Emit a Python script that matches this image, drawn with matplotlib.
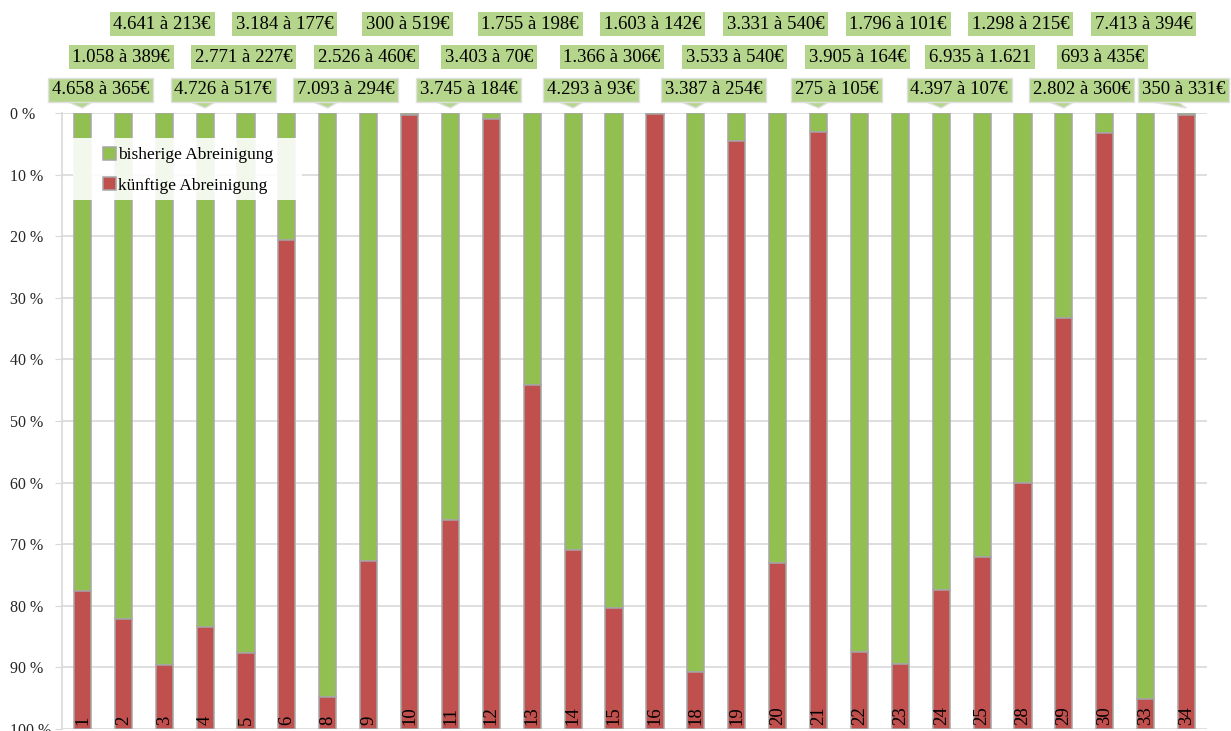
import numpy as np
import matplotlib.pyplot as plt
from matplotlib.patches import Rectangle, Patch, Polygon
from matplotlib.transforms import ScaledTranslation

# bar numbers, share of "bisherige" (green, from top) in %
bar_ids = ["1", "2", "3", "4", "5", "6", "8", "9", "10", "11", "12", "13", "14", "15",
           "16", "18", "19", "20", "21", "22", "23", "24", "25", "28", "29", "30", "33", "34"]
bisherige = [77.6, 82.1, 89.6, 83.4, 87.7, 20.6, 94.8, 72.7, 0.4, 66.0, 0.9, 44.2, 71.0, 80.4,
             0.2, 90.8, 4.5, 73.0, 3.1, 87.5, 89.4, 77.4, 72.1, 60.0, 33.3, 3.2, 95.1, 0.4]
box_labels = ["4.658 à 365€", "1.058 à 389€", "4.641 à 213€", "4.726 à 517€", "2.771 à 227€",
              "3.184 à 177€", "7.093 à 294€", "2.526 à 460€", "300 à 519€", "3.745 à 184€",
              "3.403 à 70€", "1.755 à 198€", "4.293 à 93€", "1.366 à 306€", "1.603 à 142€",
              "3.387 à 254€", "3.533 à 540€", "3.331 à 540€", "275 à 105€", "3.905 à 164€",
              "1.796 à 101€", "4.397 à 107€", "6.935 à 1.621", "1.298 à 215€", "2.802 à 360€",
              "693 à 435€", "7.413 à 394€", "350 à 331€"]
yticks = list(range(0, 101, 10))

GREEN = "#92c050"
RED = "#c0504d"
EDGE = "#a6a6a6"
BOX = "#b5d58c"
GRID = "#d9d9d9"

plt.rcParams["font.family"] = ["Liberation Serif", "DejaVu Serif"]

fig = plt.figure(figsize=(12.31, 7.31), dpi=100)
ax = fig.add_axes([62 / 1231, 2 / 731, 1145 / 1231, 616 / 731])

x = np.arange(len(bar_ids))
g = np.array(bisherige)
ax.bar(x, g, width=0.42, color=GREEN, edgecolor=EDGE, linewidth=1.1, zorder=2)
ax.bar(x, 100 - g, bottom=g, width=0.42, color=RED, edgecolor=EDGE, linewidth=1.1, zorder=2)

ax.set_xlim(-0.5, len(bar_ids) - 0.5)
ax.set_ylim(100, 0)
ax.set_yticks(yticks)
ax.set_yticklabels([f"{t} %" for t in yticks])
for lab in ax.get_yticklabels():
    lab.set_horizontalalignment("left")
ax.tick_params(axis="y", length=5, color=GRID, pad=32.4, labelsize=11.5, labelcolor="#262626")
ax.set_xticks([])
ax.grid(axis="y", color=GRID, linewidth=1.2, zorder=0)
ax.set_axisbelow(True)
for s in ["top", "right", "bottom"]:
    ax.spines[s].set_visible(False)
ax.spines["left"].set_color(GRID)
ax.spines["left"].set_linewidth(1.2)

# numbers inside the bars
for i, b in enumerate(bar_ids):
    ax.text(i, 99.4, b, rotation=90, ha="center", va="bottom", fontsize=13.5,
            color="black", zorder=3)

# value boxes above the bars, three staggered rows
for i, lab in enumerate(box_labels):
    row = i % 3
    dy = [16.6, 40.3, 64.0][row]
    if row == 0:
        last = i == len(box_labels) - 1
        dx = -2 if last else 13
        # callout tail (inches, relative to the top of the bar)
        tr = fig.dpi_scale_trans + ScaledTranslation(i, 0, ax.transData)
        if last:
            tail = [(-0.40, 0.12), (-0.10, 0.12), (0.0, 0.05)]
        else:
            tail = [(-0.17, 0.12), (0.12, 0.12), (0.0, 0.05)]
        ax.add_patch(Polygon(tail, closed=True, transform=tr, fc=BOX, ec="#e0e0e0",
                             lw=1, clip_on=False, zorder=5))
        ax.annotate(lab, xy=(i, 0), xytext=(dx, dy), textcoords="offset points",
                    ha="center", va="center", fontsize=13.5, annotation_clip=False,
                    zorder=6,
                    bbox=dict(boxstyle="square,pad=0.2", fc=BOX, ec="#e0e0e0", lw=1))
    else:
        ax.annotate(lab, xy=(i, 0), xytext=(-1.5, dy), textcoords="offset points",
                    ha="center", va="center", fontsize=13.5, annotation_clip=False,
                    bbox=dict(boxstyle="square,pad=0.2", fc=BOX, ec="none"))

# semi transparent legend background
fig.patches.append(Rectangle((73 / 1231, 1 - 200 / 731), 229 / 1231, 62 / 731,
                             transform=fig.transFigure, fc="white", ec="none",
                             alpha=0.9, zorder=4))
handles = [Patch(fc=GREEN, ec=EDGE, lw=1.1), Patch(fc=RED, ec=EDGE, lw=1.1)]
fig.legend(handles, ["bisherige Abreinigung", "künftige Abreinigung"],
           loc="upper left", bbox_to_anchor=(103 / 1231, 1 - 147 / 731),
           frameon=False, fontsize=12.5, handlelength=0.75, handleheight=0.75,
           handletextpad=0.1, labelspacing=0.8, borderpad=0, borderaxespad=0)

fig.savefig("out.png", dpi=100)
